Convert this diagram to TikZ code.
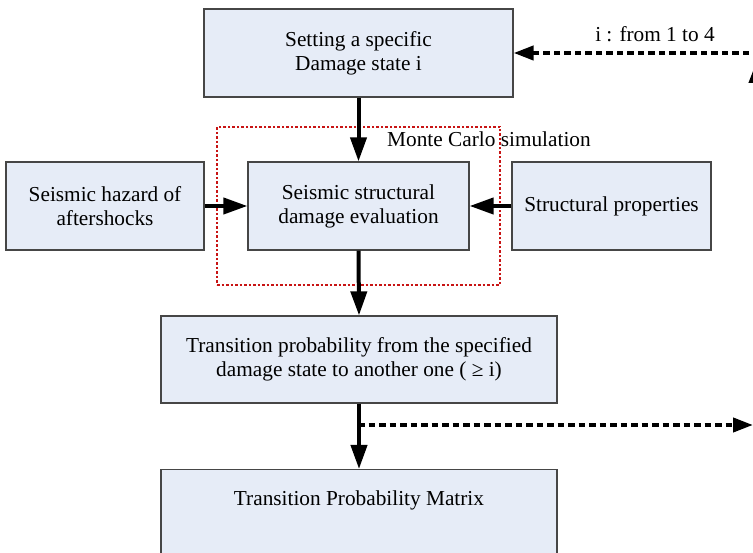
\documentclass[tikz,border=0pt]{standalone}
\usepackage{fontspec}
\setmainfont{Liberation Serif}
\usetikzlibrary{arrows.meta}
\definecolor{boxfill}{RGB}{230,236,247}
\definecolor{boxline}{RGB}{70,70,70}
\definecolor{mcred}{RGB}{200,20,20}
\tikzset{
  flowbox/.style={draw=boxline, line width=1.2pt, fill=boxfill, inner sep=0pt,
    align=center, font=\fontsize{21.3}{24}\selectfont},
  lbl/.style={inner sep=0pt, font=\fontsize{21.3}{24}\selectfont},
  mainarrow/.style={line width=4pt, -{Triangle[length=24pt,width=16pt]}},
  loopline/.style={line width=4pt, dash pattern=on 6.5pt off 4pt},
  looparrow/.style={loopline, -{Triangle[length=20pt,width=14pt]}},
  mcbox/.style={draw=mcred, line width=1.5pt, dash pattern=on 2.5pt off 2pt}
}
\begin{document}
\begin{tikzpicture}[x=1pt,y=-1pt]
\useasboundingbox (0,0) rectangle (753,553);
\clip (0,0) rectangle (753,553);
\fill[white] (0,0) rectangle (753,553);

\node[flowbox, minimum width=309pt, minimum height=88pt] (set) at (358.5,53)
  {Setting a specific\\Damage state i};
\node[flowbox, minimum width=221pt, minimum height=88pt] (eval) at (358.5,206)
  {Seismic structural\\damage evaluation};
\node[flowbox, minimum width=198pt, minimum height=88pt] (haz) at (105,206)
  {Seismic hazard of\\aftershocks};
\node[flowbox, minimum width=199pt, minimum height=88pt] (prop) at (611.5,206)
  {Structural properties};
\node[flowbox, minimum width=396pt, minimum height=87pt] (trans) at (359,359.5)
  {Transition probability from the specified\\damage state to another one ( ≥ i)};
\node[flowbox, minimum width=396pt, anchor=north, inner ysep=21pt,
  text height=15pt, text depth=70pt] (tpm) at (359,469)
  {Transition Probability Matrix};

\node[mcbox, inner sep=0pt, minimum width=283pt, minimum height=158pt] (mc) at (358.5,206) {};
\node[lbl, anchor=base west] (mclbl) at (387,147) {Monte Carlo simulation};
\node[lbl, anchor=base] (loopl) at (655,42) {i : from 1 to 4};

\draw[mainarrow] (set.south) -- (eval.north);
\draw[mainarrow] (haz.east) -- (eval.west);
\draw[mainarrow] (prop.west) -- (eval.east);
\draw[mainarrow] (eval.south) -- (trans.north);
\draw[mainarrow] (trans.south) -- (tpm.north);

\coordinate (branch) at (358,425);
\coordinate (outr) at (753,425);
\coordinate (inr) at (770,53);
\coordinate (upbot) at (756,300);
\coordinate (uptop) at (756,63);
\draw[looparrow] (branch) -- (outr);
\draw[looparrow] (inr) -- (set.east);
\draw[line width=4pt, -{Triangle[length=20pt,width=14pt]}] (upbot) -- (uptop);
\end{tikzpicture}
\end{document}
